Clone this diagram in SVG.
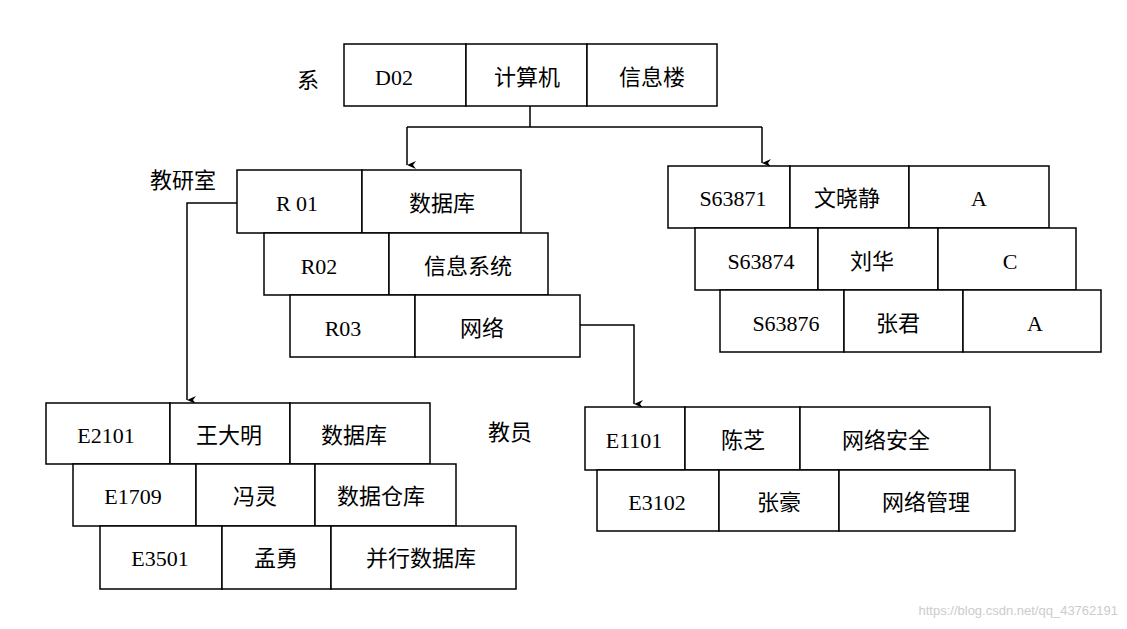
<svg xmlns="http://www.w3.org/2000/svg" width="1127" height="629" viewBox="0 0 1127 629">
<style>
.c{fill:#fff;stroke:#000;stroke-width:1.5}
text{font-family:"Liberation Serif","Noto Sans CJK SC",serif;font-size:22px;fill:#000;text-anchor:middle;dominant-baseline:central}
.l{fill:none;stroke:#000;stroke-width:1.5}
.w{font-family:"Liberation Sans",sans-serif;font-size:13px;fill:#ccc;text-anchor:end}
</style>
<defs><marker id="a" markerWidth="10" markerHeight="10" refX="5" refY="9" orient="auto" markerUnits="userSpaceOnUse"><path d="M1,0 L5,9 L9,0 L5,3 Z" fill="#000"/></marker></defs>
<rect width="1127" height="629" fill="#fff"/>
<g id="connectors">
<path class="l" d="M530,106 V127 M407,127 H762"/>
<path class="l" d="M407,127 V165" marker-end="url(#a)"/>
<path class="l" d="M762,127 V163" marker-end="url(#a)"/>
<path class="l" d="M237,203 H187 V400" marker-end="url(#a)"/>
<path class="l" d="M580,325 H634 V404" marker-end="url(#a)"/>
</g>
<g id="labels"><text x="308" y="80">系</text><text x="183" y="180">教研室</text><text x="510" y="432">教员</text></g>
<g id="dept"><rect class="c" x="344" y="44" width="122" height="62"/><rect class="c" x="466" y="44" width="121" height="62"/><rect class="c" x="587" y="44" width="130" height="62"/>
<text x="394" y="77">D02</text><text x="527" y="77">计算机</text><text x="652" y="77">信息楼</text></g>
<g id="r01"><rect class="c" x="237" y="170" width="125" height="63"/><rect class="c" x="362" y="170" width="159" height="63"/><text x="297" y="203">R 01</text><text x="442" y="203">数据库</text></g>
<g id="r02"><rect class="c" x="264" y="233" width="125" height="62"/><rect class="c" x="389" y="233" width="159" height="62"/><text x="319" y="266">R02</text><text x="468" y="266">信息系统</text></g>
<g id="r03"><rect class="c" x="290" y="295" width="125" height="62"/><rect class="c" x="415" y="295" width="165" height="62"/><text x="343" y="328">R03</text><text x="482" y="328">网络</text></g>
<g id="s1"><rect class="c" x="668" y="166" width="122" height="62"/><rect class="c" x="790" y="166" width="119" height="62"/><rect class="c" x="909" y="166" width="140" height="62"/><text x="733" y="198">S63871</text><text x="847" y="198">文晓静</text><text x="979" y="198">A</text></g>
<g id="s2"><rect class="c" x="695" y="228" width="123" height="62"/><rect class="c" x="818" y="228" width="120" height="62"/><rect class="c" x="938" y="228" width="138" height="62"/><text x="761" y="261">S63874</text><text x="872" y="261">刘华</text><text x="1010" y="261">C</text></g>
<g id="s3"><rect class="c" x="720" y="290" width="124" height="62"/><rect class="c" x="844" y="290" width="119" height="62"/><rect class="c" x="963" y="290" width="138" height="62"/><text x="786" y="323">S63876</text><text x="898" y="323">张君</text><text x="1035" y="323">A</text></g>
<g id="e2101"><rect class="c" x="46" y="403" width="124" height="61"/><rect class="c" x="170" y="403" width="120" height="61"/><rect class="c" x="290" y="403" width="140" height="61"/><text x="106" y="435">E2101</text><text x="229" y="435">王大明</text><text x="354" y="435">数据库</text></g>
<g id="e1709"><rect class="c" x="73" y="464" width="123" height="62"/><rect class="c" x="196" y="464" width="119" height="62"/><rect class="c" x="315" y="464" width="141" height="62"/><text x="133" y="496">E1709</text><text x="255" y="496">冯灵</text><text x="381" y="496">数据仓库</text></g>
<g id="e3501"><rect class="c" x="100" y="526" width="122" height="63"/><rect class="c" x="222" y="526" width="109" height="63"/><rect class="c" x="331" y="526" width="185" height="63"/><text x="160" y="558">E3501</text><text x="276" y="558">孟勇</text><text x="421" y="558">并行数据库</text></g>
<g id="e1101"><rect class="c" x="585" y="407" width="100" height="63"/><rect class="c" x="685" y="407" width="115" height="63"/><rect class="c" x="800" y="407" width="190" height="63"/><text x="634" y="440">E1101</text><text x="743" y="440">陈芝</text><text x="886" y="440">网络安全</text></g>
<g id="e3102"><rect class="c" x="597" y="470" width="122" height="61"/><rect class="c" x="719" y="470" width="120" height="61"/><rect class="c" x="839" y="470" width="176" height="61"/><text x="657" y="502">E3102</text><text x="779" y="502">张豪</text><text x="926" y="502">网络管理</text></g>
<text class="w" x="1118" y="610">https://blog.csdn.net/qq_43762191</text>
</svg>
